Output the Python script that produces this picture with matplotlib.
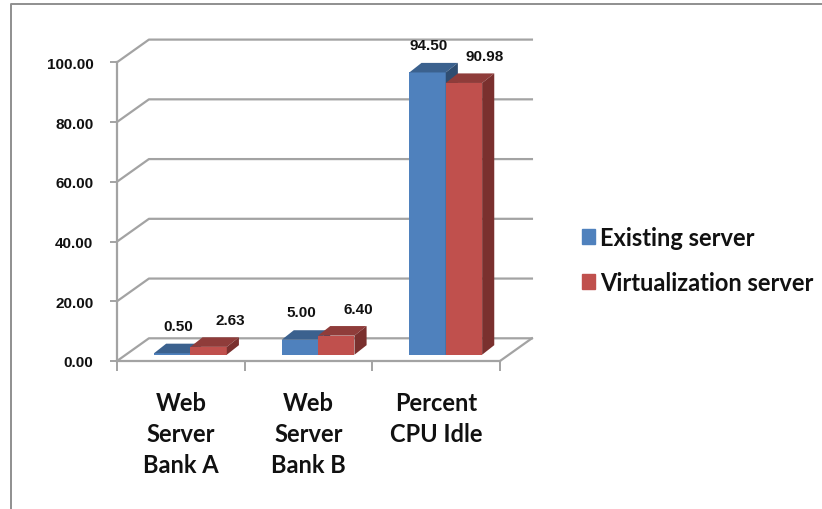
import matplotlib
matplotlib.use("Agg")
import matplotlib.pyplot as plt
from matplotlib.lines import Line2D
from matplotlib.patches import Patch

categories = ["Web\nServer\nBank A", "Web\nServer\nBank B", "Percent\nCPU Idle"]
existing = [0.50, 5.00, 94.50]
virtualization = [2.63, 6.40, 90.98]
yticks = [0, 20, 40, 60, 80, 100]

#colors: front, top, side
blues = ["#4F81BD", "#3B618E", "#2F4D71"]
reds = ["#C0504D", "#8F3C3A", "#7A302E"]
gridColor = "#A3A3A3"

#label offsets in pixels from the front top left corner of each bar
existingOffsets = [(24, 27), (20, 28), (19, 27)]
virtualOffsets = [(40, 27), (40, 27), (39, 27)]

fig = plt.figure(figsize=(8.22, 5.10), dpi=100)
ax = fig.add_axes([117/822, (510-362)/510, 383/822, 298.7/510])
ax.set_xlim(0, 3)
ax.set_ylim(0, 100)

#depth of the box and of the bars, in data units
wallX = 0.25
wallY = 7.6
barDepthX = 0.095
barDepthY = 3.2
barBase = 2.1
barWidth = 0.285
barStart = 0.29

#back wall
for t in yticks:
    ax.plot([0, wallX, 3 + wallX], [t, t + wallY, t + wallY], color=gridColor, lw=1.6,
            clip_on=False, zorder=1)
ax.plot([3, 3 + wallX], [0, wallY], color=gridColor, lw=1.6, clip_on=False, zorder=1)


def drawBars(xs, values, colors, z):
    ax.bar(xs, values, width=barWidth, bottom=barBase, align="edge", color=colors[0], zorder=z)
    for x, v in zip(xs, values):
        top = barBase + v
        ax.fill([x, x + barWidth, x + barWidth + barDepthX, x + barDepthX],
                [top, top, top + barDepthY, top + barDepthY], color=colors[1], lw=0, zorder=z,
                clip_on=False)
        ax.fill([x + barWidth, x + barWidth + barDepthX, x + barWidth + barDepthX, x + barWidth],
                [barBase, barBase + barDepthY, top + barDepthY, top], color=colors[2], lw=0, zorder=z,
                clip_on=False)


positions = [i + barStart for i in range(len(categories))]
drawBars(positions, existing, blues, 2)
drawBars([p + barWidth for p in positions], virtualization, reds, 3)

labelFont = {"family": "Liberation Sans", "weight": "bold", "size": 11, "color": "#111111"}
for p, v, off in zip(positions, existing, existingOffsets):
    ax.annotate("%.2f" % v, (p, barBase + v), xytext=(off[0]*0.72, off[1]*0.72),
                textcoords="offset points", ha="center", va="center", zorder=5, **labelFont)
for p, v, off in zip(positions, virtualization, virtualOffsets):
    ax.annotate("%.2f" % v, (p + barWidth, barBase + v), xytext=(off[0]*0.72, off[1]*0.72),
                textcoords="offset points", ha="center", va="center", zorder=5, **labelFont)

#axes
for s in ["top", "right"]:
    ax.spines[s].set_visible(False)
for s in ["left", "bottom"]:
    ax.spines[s].set_color(gridColor)
    ax.spines[s].set_linewidth(1.6)
ax.patch.set_alpha(0)

ax.set_yticks(yticks)
ax.set_yticklabels(["%.2f" % t for t in yticks], **labelFont)
ax.tick_params(axis="y", length=5, width=1.4, color=gridColor, pad=12)

ax.set_xticks([0, 1, 2, 3])
ax.set_xticklabels([])
ax.tick_params(axis="x", which="major", length=7, width=1.4, color=gridColor)
ax.set_xticks([0.5, 1.5, 2.5], minor=True)
ax.set_xticklabels(categories, minor=True, family="Lato", weight="bold", size=17,
                   color="#111111", linespacing=1.42)
ax.tick_params(axis="x", which="minor", length=0, pad=21.5)

#legend
handles = [Patch(color=blues[0], label="Existing server"),
           Patch(color=reds[0], label="Virtualization server")]
fig.legend(handles=handles, loc="center left", bbox_to_anchor=(575/822, (510-261)/510),
           frameon=False, prop={"family": "Lato", "weight": "bold", "size": 17},
           labelcolor="#111111", handlelength=0.56, handleheight=0.56, handletextpad=0.2,
           labelspacing=0.93, borderpad=0.3, borderaxespad=0)

#outer border of the chart area
fig.add_artist(Line2D([10.5/822, 10.5/822, 1], [0, 1 - 5/510, 1 - 5/510], color="#8F8F8F", lw=1.4))

fig.savefig("out.png", dpi=100)
